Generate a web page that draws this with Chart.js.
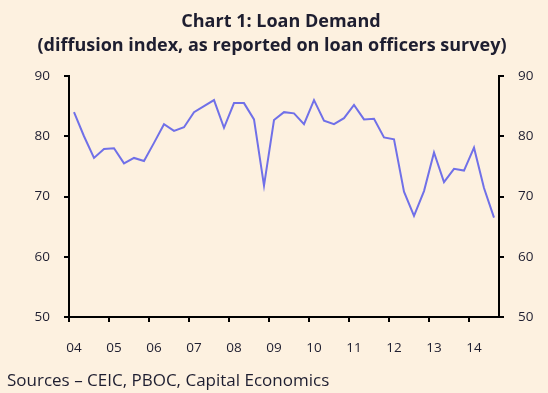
<!DOCTYPE html>
<html>
<head>
<meta charset="utf-8">
<script src="https://cdn.jsdelivr.net/npm/chart.js@4/dist/chart.umd.min.js"></script>
<style>
  html, body { margin: 0; padding: 0; background: #fdf1e0; }
  #wrap { width: 548px; height: 393px; position: relative; }
</style>
</head>
<body>
<div id="wrap"><canvas id="loanChart" width="548" height="393"></canvas></div>
<script>
// quarters 2004Q1 .. 2014Q3
const years = ['04', '05', '06', '07', '08', '09', '10', '11', '12', '13', '14'];
const quarters = [];
years.forEach(function (y) {
    for (let q = 1; q <= 4; q++) quarters.push(y + 'Q' + q);
});
quarters.length = 43;

// loan demand diffusion index
const loanDemand = [
    84.0, 80.0, 76.4, 77.9, 78.0, 75.5, 76.4, 75.9,
    78.9, 82.0, 80.9, 81.5, 84.0, 85.0, 86.0, 81.4,
    85.5, 85.5, 82.8, 71.8, 82.7, 84.0, 83.8, 82.0,
    86.0, 82.6, 82.0, 83.0, 85.2, 82.8, 82.9, 79.8,
    79.5, 70.8, 66.8, 70.9, 77.3, 72.4, 74.6, 74.3,
    78.1, 71.4, 66.5
];

const yTicks = [50, 60, 70, 80, 90];

const textColor = '#1e1e30';
const fontName = '"Open Sans", sans-serif';

// draws the two line title and the source note
const textPlugin = {
    id: 'textPlugin',
    afterDraw(chart) {
        const ctx = chart.ctx;
        ctx.save();
        ctx.fillStyle = textColor;
        ctx.textAlign = 'center';
        ctx.textBaseline = 'middle';
        ctx.font = 'bold 18px ' + fontName;
        ctx.fillText('Chart 1: Loan Demand', 281, 22);
        ctx.fillText('(diffusion index, as reported on loan officers survey)', 272, 46);
        ctx.textAlign = 'left';
        ctx.font = '17px ' + fontName;
        ctx.fillText('Sources \u2013 CEIC, PBOC, Capital Economics', 7, 381);
        ctx.restore();
    }
};

const yAxis = function (pos, w) {
    return {
        position: pos,
        min: 50,
        max: 90,
        afterBuildTicks: function (scale) {
            scale.ticks = yTicks.map(v => ({ value: v }));
        },
        afterFit: function (scale) { scale.width = w; },
        border: { display: true, color: '#000', width: 2 },
        grid: { drawOnChartArea: false, color: '#000', lineWidth: 2, tickLength: 5 },
        ticks: { color: textColor, font: { family: fontName, size: 13.5 }, padding: 14 }
    };
};

new Chart(document.getElementById('loanChart'), {
    type: 'line',
    data: {
        labels: quarters,
        datasets: [{
            data: loanDemand,
            borderColor: '#7070e8',
            borderWidth: 2,
            pointRadius: 0,
            tension: 0,
            fill: false,
            yAxisID: 'y'
        }, {
            data: [],
            yAxisID: 'y2'
        }]
    },
    options: {
        responsive: false,
        animation: false,
        layout: { padding: { top: 76, left: 0, right: 0, bottom: 0 } },
        plugins: {
            legend: { display: false },
            tooltip: { enabled: false },
            title: { display: false }
        },
        scales: {
            x: {
                offset: true,
                afterFit: function (scale) { scale.height = 76; },
                border: { display: true, color: '#000', width: 2 },
                grid: {
                    offset: true,
                    drawOnChartArea: false,
                    tickLength: 5,
                    lineWidth: 2,
                    color: function (c) {
                        return (c.index % 4 === 0) ? '#000' : 'rgba(0,0,0,0)';
                    }
                },
                ticks: {
                    autoSkip: false,
                    maxRotation: 0,
                    color: textColor,
                    font: { family: fontName, size: 13.5 },
                    padding: 18,
                    callback: function (v, i) {
                        const lab = quarters[i];
                        return lab.endsWith('Q1') ? lab.slice(0, 2) : '';
                    }
                }
            },
            y: yAxis('left', 69),
            y2: yAxis('right', 49)
        }
    },
    plugins: [textPlugin]
});
</script>
</body>
</html>
